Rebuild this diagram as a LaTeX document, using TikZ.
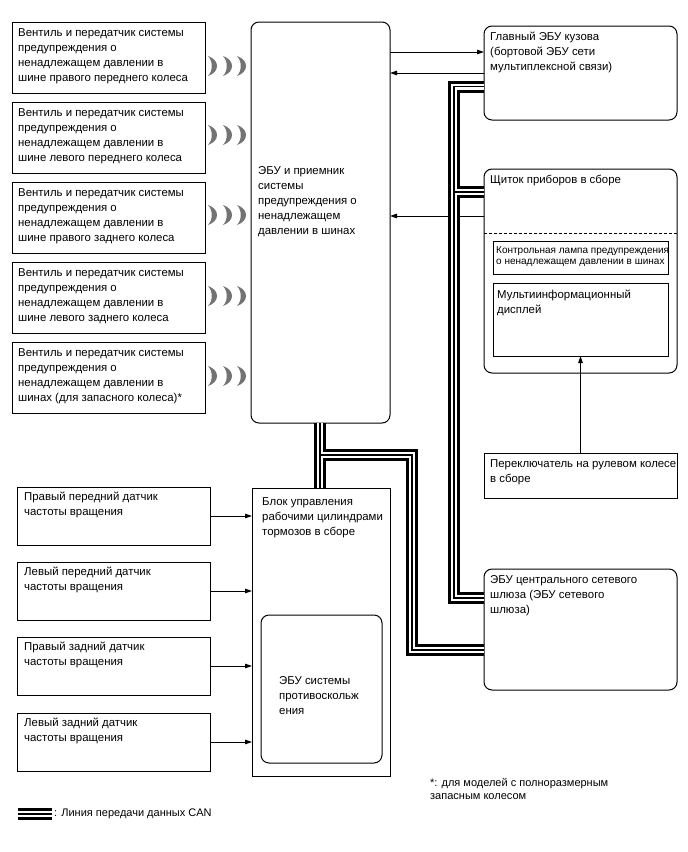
\documentclass[tikz,border=0pt]{standalone}
\usepackage{fontspec}
\setmainfont{Liberation Sans}
\usetikzlibrary{arrows.meta,calc}
\newcommand\mywave[2]{\fill[black!55] (#1,#2-10) .. controls (#1+12,#2-6) and (#1+12,#2+6) .. (#1,#2+10) .. controls (#1+5,#2+5) and (#1+5,#2-5) .. (#1,#2-10) -- cycle;}
\newcommand\mywaves[1]{\mywave{208}{#1}\mywave{223}{#1}\mywave{237}{#1}}
\begin{document}
\begin{tikzpicture}[x=1pt,y=-1pt,
  box/.style={draw, line width=1pt, inner sep=0pt, outer sep=0pt, anchor=north west},
  rbox/.style={box, rounded corners=8pt},
  txt/.style={anchor=north west, inner sep=0pt, align=left, font=\fontsize{11.4}{15}\selectfont},
  smalltxt/.style={txt, font=\fontsize{10}{11.5}\selectfont},
  arr/.style={line width=0.9pt, -{Triangle[length=7pt,width=4.5pt]}},
]
\path[use as bounding box] (0,0) rectangle (688,852);

% left valve boxes
\node[box, minimum width=193pt, minimum height=71pt] (v1) at (12,22) {};
\node[box, minimum width=193pt, minimum height=71pt] (v2) at (12,102) {};
\node[box, minimum width=193pt, minimum height=71pt] (v3) at (12,182) {};
\node[box, minimum width=193pt, minimum height=71pt] (v4) at (12,262) {};
\node[box, minimum width=193pt, minimum height=71pt] (v5) at (12,342) {};
\node[txt] (v1t) at ($(v1.north west)+(6,6)$) {Вентиль и передатчик системы\\предупреждения о\\ненадлежащем давлении в\\шине правого переднего колеса};
\node[txt] (v2t) at ($(v2.north west)+(6,6)$) {Вентиль и передатчик системы\\предупреждения о\\ненадлежащем давлении в\\шине левого переднего колеса};
\node[txt] (v3t) at ($(v3.north west)+(6,6)$) {Вентиль и передатчик системы\\предупреждения о\\ненадлежащем давлении в\\шине правого заднего колеса};
\node[txt] (v4t) at ($(v4.north west)+(6,6)$) {Вентиль и передатчик системы\\предупреждения о\\ненадлежащем давлении в\\шине левого заднего колеса};
\node[txt] (v5t) at ($(v5.north west)+(6,6)$) {Вентиль и передатчик системы\\предупреждения о\\ненадлежащем давлении в\\шинах (для запасного колеса)*};

% waves
\mywaves{66}
\mywaves{135}
\mywaves{215}
\mywaves{296}
\mywaves{376}

% TPMS ECU
\node[rbox, minimum width=139pt, minimum height=401pt] (tpms) at (251,22) {};
\node[txt] (tpmst) at (258,166) {ЭБУ и приемник\\системы\\предупреждения о\\ненадлежащем\\давлении в шинах};

% body ECU
\node[rbox, minimum width=193pt, minimum height=94pt] (body) at (484,26) {};
\node[txt] (bodyt) at (490,32) {Главный ЭБУ кузова\\(бортовой ЭБУ сети\\мультиплексной связи)};

% combination meter
\node[rbox, minimum width=193pt, minimum height=204pt] (clu) at (484,169) {};
\node[txt] (clut) at (490,175) {Щиток приборов в сборе};
\draw[line width=0.9pt, dash pattern=on 3pt off 2pt] (clu.west |- 0,233) -- (clu.east |- 0,233);
\node[box, minimum width=175pt, minimum height=33pt] (lamp) at (493,241) {};
\node[smalltxt] (lampt) at (496,246) {Контрольная лампа предупреждения\\о ненадлежащем давлении в шинах};
\node[box, minimum width=175pt, minimum height=73pt] (mid) at (493,283) {};
\node[txt] (midt) at (497,290) {Мультиинформационный\\дисплей};

% steering switch
\node[box, minimum width=193pt, minimum height=45pt] (sw) at (484,453) {};
\node[txt] (swt) at (490,459) {Переключатель на рулевом колесе\\в сборе};

% gateway
\node[rbox, minimum width=193pt, minimum height=121pt] (gw) at (484,569) {};
\node[txt] (gwt) at (490,575) {ЭБУ центрального сетевого\\шлюза (ЭБУ сетевого\\шлюза)};

% brake actuator
\node[box, minimum width=138pt, minimum height=288pt] (brk) at (252,488) {};
\node[txt] (brkt) at (262,497) {Блок управления\\рабочими цилиндрами\\тормозов в сборе};
\node[rbox, minimum width=121pt, minimum height=148pt] (abs) at (261,615) {};
\node[txt] (abst) at (279,676) {ЭБУ системы\\противоскольж\\ения};

% speed sensors
\node[box, minimum width=193pt, minimum height=58pt] (s1) at (17,487) {};
\node[box, minimum width=193pt, minimum height=58pt] (s2) at (17,562) {};
\node[box, minimum width=193pt, minimum height=58pt] (s3) at (17,637) {};
\node[box, minimum width=193pt, minimum height=58pt] (s4) at (17,713) {};
\node[txt] (s1t) at ($(s1.north west)+(7,5)$) {Правый передний датчик\\частоты вращения};
\node[txt] (s2t) at ($(s2.north west)+(7,5)$) {Левый передний датчик\\частоты вращения};
\node[txt] (s3t) at ($(s3.north west)+(7,5)$) {Правый задний датчик\\частоты вращения};
\node[txt] (s4t) at ($(s4.north west)+(7,5)$) {Левый задний датчик\\частоты вращения};

% arrows
\draw[arr] (tpms.east |- 0,52) -- (body.west |- 0,52);
\draw[arr] (body.west |- 0,73) -- (tpms.east |- 0,73);
\draw[arr] (clu.west |- 0,216) -- (tpms.east |- 0,216);
\draw[arr] (sw.north) -- (mid.south);
\foreach \s in {s1,s2,s3,s4} \draw[arr] (\s.east) -- (\s.east -| brk.west);

% CAN lines
\coordinate (ja) at (454,192);
\coordinate (jb) at (320,455);
\coordinate (lg1) at (18,814);
\coordinate (lg2) at (52,814);
\foreach \w/\c in {12pt/black,6pt/white,1.3pt/black}{
  \draw[line width=\w, draw=\c, line join=miter]
    (body.west |- 0,86.5) -| (454,598) -- (gw.west |- 0,598);
  \draw[line width=\w, draw=\c, line join=miter] (ja) -- (clu.west |- ja);
  \draw[line width=\w, draw=\c, line join=miter] (tpms.south -| jb) -- (brk.north -| jb);
  \draw[line width=\w, draw=\c, line join=miter] (jb) -| (412,650) -- (gw.west |- 0,650);
  \draw[line width=\w, draw=\c] (lg1) -- (lg2);
}
\node[txt, anchor=west, font=\fontsize{11}{13}\selectfont] (lgt) at (54,814) {: Линия передачи данных CAN};

% footnote
\node[txt, font=\fontsize{11}{13}\selectfont] (fn) at (430,778) {*: для моделей с полноразмерным\\запасным колесом};
\end{tikzpicture}
\end{document}
